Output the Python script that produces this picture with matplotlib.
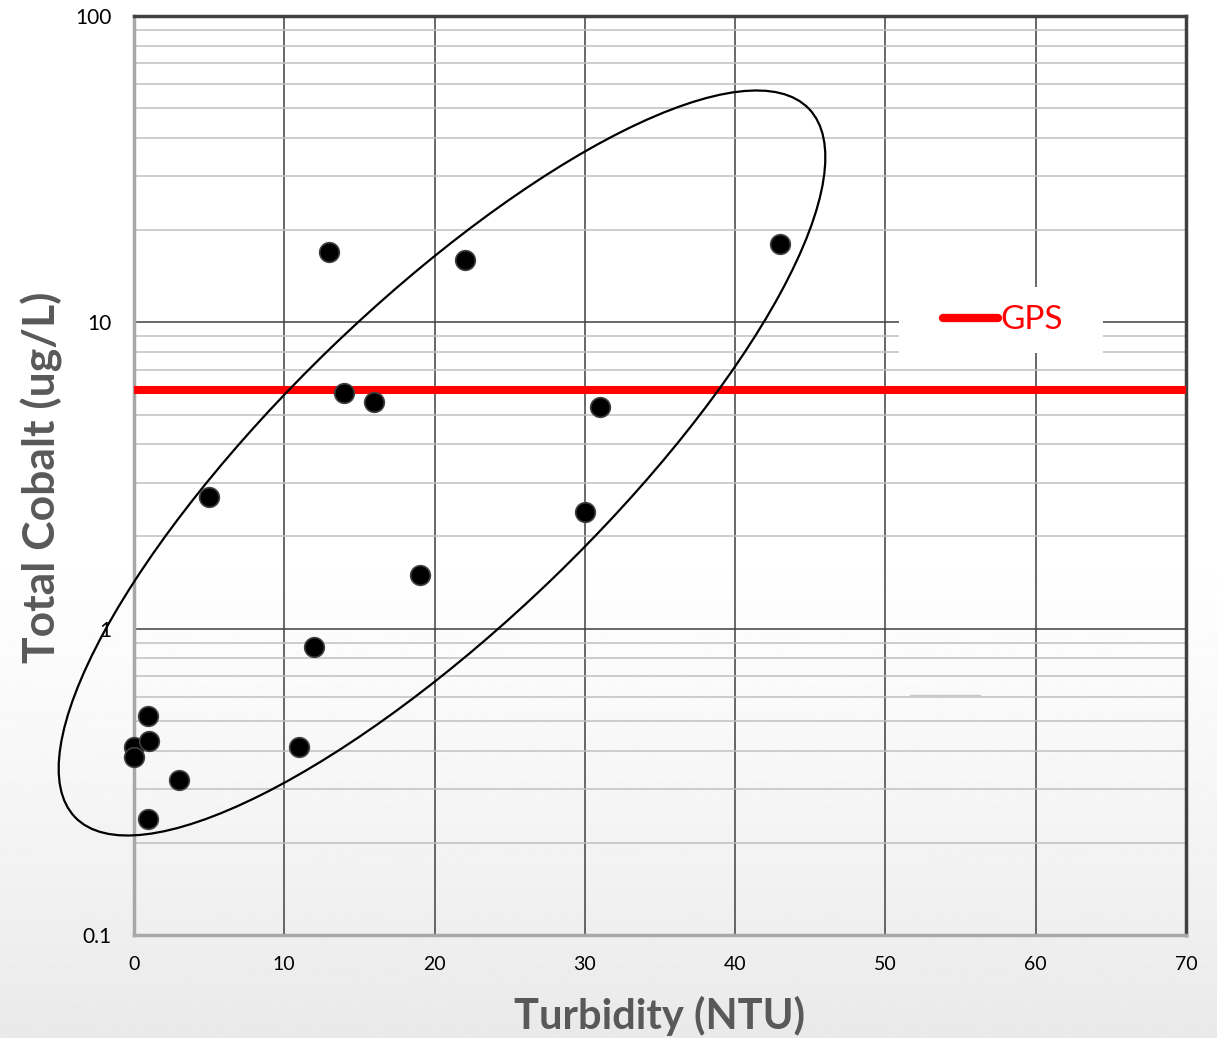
import numpy as np
import matplotlib
matplotlib.use("Agg")
import matplotlib.pyplot as plt
from matplotlib.patches import Ellipse, Rectangle
from matplotlib.lines import Line2D
from matplotlib.ticker import FixedLocator, LogLocator, NullFormatter

# data
turbidity = [0, 0, 0.9, 1.0, 0.9, 3, 5, 11, 12, 13, 14, 16, 19, 22, 30, 31, 43]
cobalt = [0.41, 0.38, 0.52, 0.43, 0.24, 0.32, 2.7, 0.41, 0.87, 17, 5.9, 5.5, 1.5, 16, 2.4, 5.3, 18]
gps_value = 6.0
x_ticks = [0, 10, 20, 30, 40, 50, 60, 70]
y_ticks = [0.1, 1, 10, 100]
y_tick_labels = ["0.1", "1", "10", "100"]

DARK = "#404040"
LIGHT = "#c0c0c0"
LABEL_GRAY = "#595959"

fig = plt.figure(figsize=(12.17, 10.38), dpi=100)

# soft grey gradient behind everything
bg = fig.add_axes([0, 0, 1, 1], zorder=-1)
bg.axis("off")
rows = np.linspace(0, 1, 400)
shade = np.clip((rows - 0.5) / 0.5, 0, 1) ** 1.3
grad = 1.0 - 0.085 * shade
bg.imshow(np.repeat(grad[:, None], 2, axis=1), cmap="gray", vmin=0, vmax=1,
          aspect="auto", extent=[0, 1, 0, 1], origin="upper")

ax = fig.add_axes([0.1101, 0.0992, 0.8644, 0.8854])
ax.set_facecolor("none")
ax.set_xlim(0, 70)
ax.set_yscale("log")
ax.set_ylim(0.1, 100)

ax.xaxis.set_major_locator(FixedLocator(x_ticks))
ax.yaxis.set_major_locator(FixedLocator(y_ticks))
ax.set_yticklabels(y_tick_labels)
ax.yaxis.set_minor_locator(LogLocator(base=10, subs=np.arange(2, 10)))
ax.yaxis.set_minor_formatter(NullFormatter())
ax.tick_params(which="both", length=0)
ax.tick_params(axis="y", pad=16, labelsize=15)
ax.tick_params(axis="x", pad=15, labelsize=14)
for lab in ax.get_xticklabels() + ax.get_yticklabels():
    lab.set_fontfamily("Lato")

ax.grid(True, which="major", axis="both", color=DARK, linewidth=1.1, zorder=0)
ax.grid(True, which="minor", axis="y", color=LIGHT, linewidth=1.1, zorder=0)
ax.set_axisbelow(True)

for side in ["top", "right"]:
    ax.spines[side].set_color(DARK)
    ax.spines[side].set_linewidth(2.5)
for side in ["left", "bottom"]:
    ax.spines[side].set_color("#a8a8a8")
    ax.spines[side].set_linewidth(2.5)

ax.axhline(gps_value, color="#ff0000", linewidth=5.8, zorder=3, clip_on=False,
           solid_capstyle="butt")

ax.scatter(turbidity, cobalt, s=200, color="black", edgecolors=DARK,
           linewidths=1.2, zorder=5, clip_on=False)

# hand-drawn grouping ellipse (placed in figure inches)
ell = Ellipse((4.42, 5.75), 10.2, 3.2, angle=44, transform=fig.dpi_scale_trans,
              fill=False, edgecolor="black", linewidth=1.6, zorder=4, clip_on=False)
ax.add_patch(ell)

# white legend box over the grid
ax.add_patch(Rectangle((0.727, 0.633), 0.194, 0.072, transform=ax.transAxes,
                       facecolor="white", edgecolor="none", zorder=2))
handle = Line2D([], [], color="#ff0000", linewidth=6, solid_capstyle="round")
leg = ax.legend([handle], ["GPS"], loc="center", bbox_to_anchor=(0.826, 0.669),
                frameon=False, handlelength=1.65, handletextpad=0.1,
                prop={"family": "Lato", "size": 24})
leg.get_texts()[0].set_color("#ff0000")
leg.set_zorder(6)

ax.plot([0.738, 0.804], [0.261, 0.261], transform=ax.transAxes, color="#c8c8c8",
        linewidth=1, zorder=2)

fig.text(0.0345, 0.54, "Total Cobalt (ug/L)", rotation=90, ha="center", va="center",
         fontsize=32, fontweight="bold", color=LABEL_GRAY, family="Lato")
fig.text(0.542, 0.021, "Turbidity (NTU)", ha="center", va="center",
         fontsize=30, fontweight="bold", color=LABEL_GRAY, family="Lato")

fig.savefig("out.png", dpi=100)
